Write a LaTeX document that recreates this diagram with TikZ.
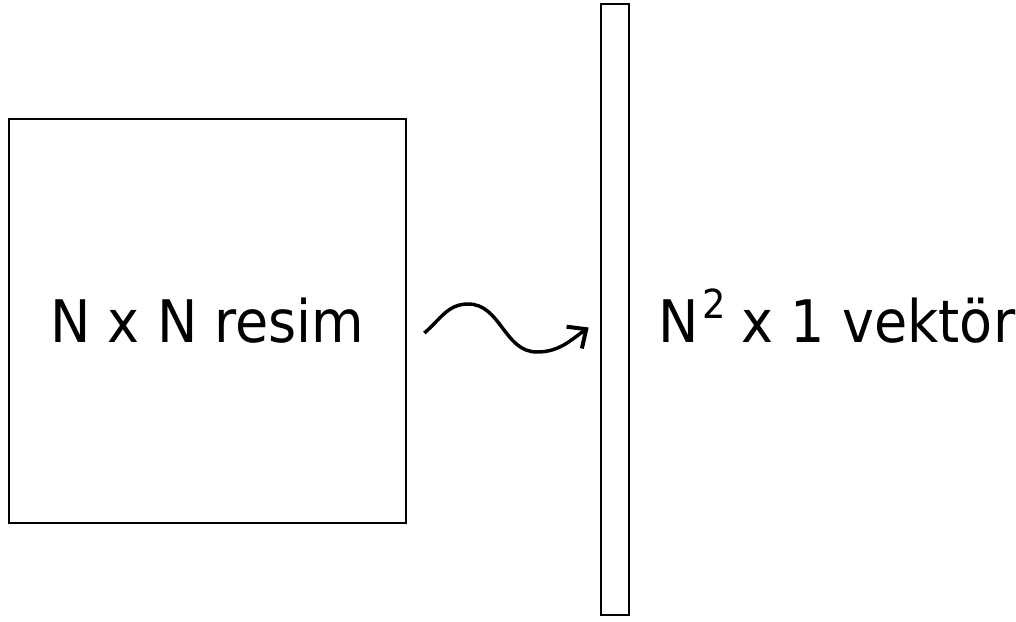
\documentclass[tikz,border=0pt]{standalone}
\usepackage{fontspec}
\setmainfont{DejaVu Sans}[FakeStretch=0.92]
\usetikzlibrary{arrows.meta}
\begin{document}
\begin{tikzpicture}[x=0.75pt, y=0.75pt, every node/.style={font=\fontsize{44}{50}\selectfont},
  box/.style={draw,line width=2pt,inner sep=0pt},
  wave/.style={line width=2.6pt,-{Straight Barb[length=11pt,width=20pt,line width=3pt]}}]
\useasboundingbox (0,0) rectangle (1016,621);
\node[box,minimum width=297.75pt,minimum height=303pt] (resim) at (207.5,300) {N x N resim};
\node[box,minimum width=21pt,minimum height=458.25pt] (vektor) at (615,311.5) {};
\node[anchor=base west,inner sep=0pt] (etiket) at (658,278)
  {N\kern3pt\raisebox{18pt}{\fontsize{30}{34}\selectfont 2}\kern-1pt{} x 1 vektör};
\coordinate (bas) at ([xshift=12.75pt,yshift=-9pt]resim.east);
\coordinate (son) at ([xshift=-8.25pt,yshift=-13.5pt]vektor.west);
\draw[wave] (bas) to[out=40,in=180] (468,317) to[out=0,in=180] (537,269) to[out=0,in=215] (son);
\end{tikzpicture}
\end{document}
